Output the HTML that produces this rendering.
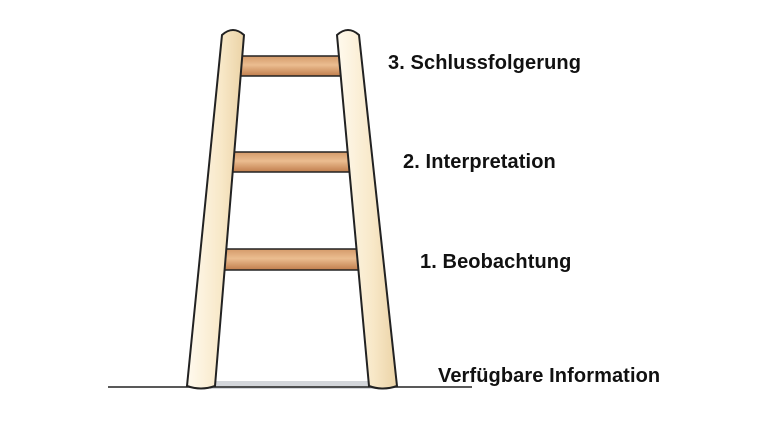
<!DOCTYPE html>
<html><head><meta charset="utf-8"><style>
body{margin:0;width:777px;height:424px;background:#fff;overflow:hidden;position:relative;font-family:"Liberation Sans",sans-serif}
.t{position:absolute;font-weight:bold;font-size:20px;color:#111;white-space:nowrap;letter-spacing:0.1px}
</style></head><body>
<svg width="777" height="424" style="position:absolute;left:0;top:0">
<defs>
<linearGradient id="rg" x1="0" y1="0" x2="0" y2="1">
<stop offset="0" stop-color="#d49a6a"/><stop offset="0.45" stop-color="#ebbd90"/><stop offset="1" stop-color="#c07d4c"/></linearGradient>
<linearGradient id="rl" x1="0" y1="0" x2="1" y2="0">
<stop offset="0" stop-color="#fffaee"/><stop offset="0.6" stop-color="#f8e8c8"/><stop offset="1" stop-color="#ebd3a6"/></linearGradient>
</defs>
<rect x="210" y="381" width="170" height="8" fill="#c8ccd2" opacity="0.8"/>
<line x1="108" y1="387" x2="472" y2="387" stroke="#222" stroke-width="1.5"/>
<rect x="239" y="56" width="103" height="20" fill="url(#rg)" stroke="#222" stroke-width="1.5"/>
<rect x="231" y="152" width="120" height="20" fill="url(#rg)" stroke="#222" stroke-width="1.5"/>
<rect x="223" y="249" width="136" height="21" fill="url(#rg)" stroke="#222" stroke-width="1.5"/>
<path d="M222,35 Q233,25 244,35 L215,386 Q201,391 187,386 Z" fill="url(#rl)" stroke="#222" stroke-width="2"/>
<path d="M337,35 Q348,25 359,35 L397,386 Q383,391 369,386 Z" fill="url(#rl)" stroke="#222" stroke-width="2"/>
</svg>
<div class="t" style="left:388px;top:52px">3. Schlussfolgerung</div>
<div class="t" style="left:403px;top:151px">2. Interpretation</div>
<div class="t" style="left:420px;top:251px">1. Beobachtung</div>
<div class="t" style="left:438px;top:365px">Verfügbare Information</div>
</body></html>
